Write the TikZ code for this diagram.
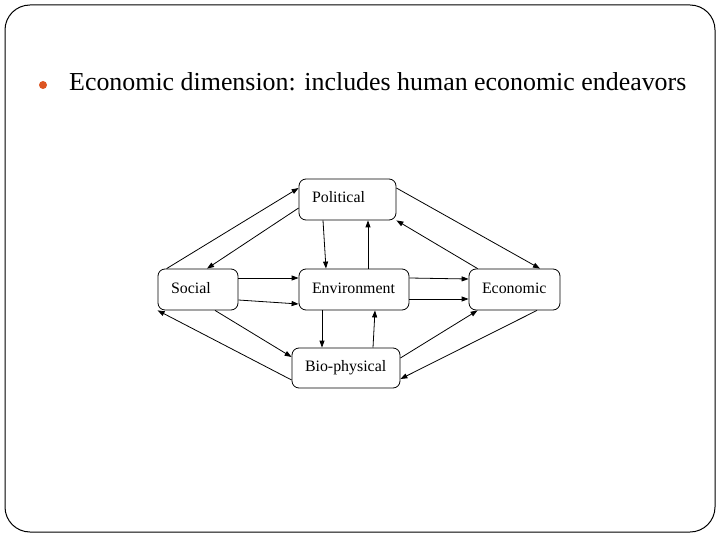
\documentclass[tikz,border=0pt]{standalone}
\usepackage{fontspec}
\setmainfont{Liberation Serif}
\usetikzlibrary{arrows.meta}
\definecolor{bulletorange}{RGB}{221,85,34}
\begin{document}
\begin{tikzpicture}[x=1pt, y=-1pt, >={Triangle[length=7pt,width=5pt]}]
        \tikzstyle{box}=[draw, rounded corners=7pt, line width=0.8pt, inner xsep=13pt, inner ysep=0pt, minimum height=41pt, text height=11pt, text depth=4pt, align=left, font=\fontsize{15.9}{18}\selectfont]
        \tikzstyle{link}=[->, line width=0.8pt]
        \useasboundingbox (0,0) rectangle (720,540);
        \draw[line width=1pt, rounded corners=25pt] (5,5) rectangle (715,532);
        \fill[bulletorange] (43,85) circle (4pt);
        \node[anchor=base west, inner sep=0pt, font=\fontsize{25.9}{30}\selectfont] (title) at (69,91) {Economic dimension: includes human economic endeavors};
        \node[box, text width=71pt] (pol) at (347.5,199.5) {Political};
        \node[box, text width=54pt] (soc) at (198,289.5) {Social};
        \node[box, text width=84pt] (env) at (354,289.5) {Environment};
        \node[box, text width=65pt] (eco) at (514.5,289.5) {Economic};
        \node[box, text width=82pt, minimum height=40pt] (bio) at (346,368) {Bio-physical};
        \draw[link] ([xshift=9pt]soc.north west) -- ([yshift=11.5pt]pol.west);
        \draw[link] ([yshift=-8.5pt]pol.west) -- ([xshift=9pt]soc.north);
        \draw[link] ([xshift=-24.5pt]pol.south) -- ([xshift=-28pt]env.north);
        \draw[link] ([xshift=14pt]env.north) -- ([xshift=20.5pt]pol.south);
        \draw[link] ([yshift=11.5pt]pol.east) -- ([xshift=25.5pt]eco.north);
        \draw[link] ([xshift=9pt]eco.north west) -- (pol.south east);
        \draw[link] ([yshift=11.5pt]soc.east) -- ([yshift=11.5pt]env.west);
        \draw[link] ([yshift=-10.5pt]soc.east) -- ([yshift=-14.5pt]env.west);
        \draw[link] ([yshift=11.5pt]env.east) -- ([yshift=10.5pt]eco.west);
        \draw[link] ([yshift=-9.5pt]env.east) -- ([yshift=-9.5pt]eco.west);
        \draw[link] ([xshift=17pt]soc.south) -- ([yshift=11pt]bio.west);
        \draw[link] ([yshift=-12pt]bio.west) -- (soc.south west);
        \draw[link] ([xshift=-32pt]env.south) -- ([xshift=-24pt]bio.north);
        \draw[link] ([xshift=27pt]bio.north) -- ([xshift=21pt]env.south);
        \draw[link] ([yshift=10pt]bio.east) -- ([xshift=9pt]eco.south west);
        \draw[link] ([xshift=22.5pt]eco.south) -- ([yshift=-11pt]bio.east);
    \end{tikzpicture}
\end{document}
